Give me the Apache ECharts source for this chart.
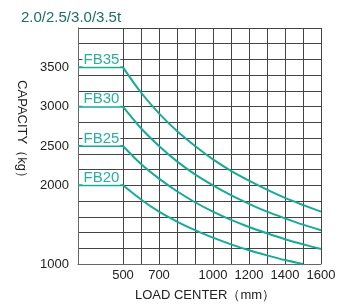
<!DOCTYPE html>
<html>
<head>
<meta charset="utf-8">
<script src="https://cdn.jsdelivr.net/npm/echarts@6/dist/echarts.min.js"></script>
<style>
  html, body { margin: 0; padding: 0; background: #fff; }
  #chart { width: 350px; height: 305px; }
</style>
</head>
<body>
<div id="chart"></div>
<script>
// load center (mm); the rated-load plateau runs from 250 to 500, then the curve falls
const plateauX = [250, 500];
const loadCenter = [500, 600, 700, 800, 900, 1000, 1100, 1200, 1300, 1400, 1500, 1600];
// capacity (kg) per model
const fb35 = [3500, 3180, 2915, 2690, 2500, 2330, 2185, 2060, 1945, 1840, 1750, 1665];
const fb30 = [3000, 2725, 2500, 2305, 2140, 2000, 1875, 1765, 1665, 1580, 1500, 1430];
const fb25 = [2500, 2270, 2085, 1925, 1785, 1665, 1560, 1470, 1390, 1315, 1250, 1190];
const fb20 = [2000, 1820, 1665, 1540, 1430, 1335, 1250, 1175, 1110, 1050, 1000];
const models = ['FB35', 'FB30', 'FB25', 'FB20'];
const ratedLoad = [3500, 3000, 2500, 2000];
// ticks / labels
const xGridValues = [250, 500, 600, 700, 800, 900, 1000, 1100, 1200, 1300, 1400, 1500, 1600];
const xLabelValues = [500, 700, 1000, 1200, 1400, 1600];
const yGridValues = [1000, 1200, 1400, 1600, 1800, 2000, 2200, 2400, 2600, 2800, 3000, 3200, 3400, 3600, 3800, 4000];
const yLabelValues = [1000, 2000, 2500, 3000, 3500];

const teal = '#17a99a';
const font = '"Liberation Sans", Arial, sans-serif';

const allData = [fb35, fb30, fb25, fb20];
const series = models.map((name, i) => {
    // plateau, a break, then the falling curve (each segment smoothed on its own)
    const data = plateauX.map(x => [x, ratedLoad[i]]);
    data.push([null, null]);
    allData[i].forEach((v, j) => data.push([loadCenter[j], v]));
    return {
        name: name,
        type: 'line',
        data: data,
        smooth: 0.3,
        connectNulls: false,
        symbol: 'none',
        lineStyle: { color: teal, width: 2 },
        markPoint: {
            symbol: 'rect',
            symbolSize: [1, 1],
            itemStyle: { color: 'transparent' },
            silent: true,
            data: [{
                coord: [380, ratedLoad[i]],
                label: {
                    show: true,
                    position: 'top',
                    distance: 0,
                    formatter: name,
                    color: '#2aae9f',
                    fontSize: 15,
                    fontFamily: font,
                    lineHeight: 14,
                    backgroundColor: '#fff',
                    padding: [0, 1, 0, 1]
                }
            }]
        }
    };
});

const chart = echarts.init(document.getElementById('chart'));
chart.setOption({
    animation: false,
    title: {
        text: '2.0/2.5/3.0/3.5t',
        left: 16,
        top: 5,
        textStyle: { color: '#1d6e63', fontSize: 15, fontWeight: 'normal', fontFamily: font }
    },
    grid: { left: 78, right: 29, top: 28, bottom: 41 },
    xAxis: {
        type: 'value',
        min: 250,
        max: 1600,
        axisLine: { show: true, lineStyle: { color: '#666', width: 1 } },
        axisTick: { show: false, customValues: xGridValues },
        axisLabel: {
            customValues: xLabelValues,
            formatter: v => String(v),
            color: '#222',
            fontSize: 13,
            fontFamily: font,
            margin: 5
        },
        splitLine: { show: true, lineStyle: { color: '#444', width: 1 } }
    },
    yAxis: {
        type: 'value',
        min: 1000,
        max: 4000,
        axisLine: { show: true, lineStyle: { color: '#666', width: 1 } },
        axisTick: { show: false, customValues: yGridValues },
        axisLabel: {
            customValues: yLabelValues,
            formatter: v => String(v),
            color: '#222',
            fontSize: 13,
            fontFamily: font,
            margin: 9
        },
        splitLine: { show: true, lineStyle: { color: '#444', width: 1 } }
    },
    graphic: [
        {
            type: 'text',
            x: 22,
            y: 132,
            rotation: -Math.PI / 2,
            style: {
                text: 'CAPACITY（kg）',
                fill: '#222',
                font: '13px ' + font,
                align: 'center',
                verticalAlign: 'middle'
            }
        },
        {
            type: 'text',
            x: 205,
            y: 295,
            style: {
                text: 'LOAD CENTER（mm）',
                fill: '#222',
                font: '13px ' + font,
                align: 'center',
                verticalAlign: 'middle'
            }
        }
    ],
    series: series
});
</script>
</body>
</html>
